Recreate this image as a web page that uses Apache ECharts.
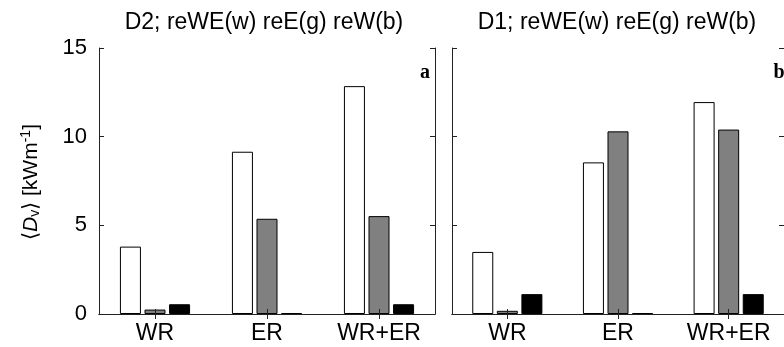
<!DOCTYPE html>
<html>
<head>
<meta charset="utf-8">
<script src="https://cdn.jsdelivr.net/npm/echarts@6/dist/echarts.min.js"></script>
<style>
  html, body { margin: 0; padding: 0; background: #fff; }
  #main { width: 784px; height: 347px; }
</style>
</head>
<body>
<div id="main"></div>
<script type="text/javascript">
	// categories and values
	var categories = ['WR', 'ER', 'WR+ER'];
	var panelTitles = ['D2; reWE(w) reE(g) reW(b)', 'D1; reWE(w) reE(g) reW(b)'];
	var panelLetters = ['a', 'b'];
	var yTicks = [0, 5, 10, 15];

	// D2 panel
	var d2White = [3.8, 9.15, 12.85];
	var d2Gray = [0.25, 5.37, 5.52];
	var d2Black = [0.55, 0.05, 0.55];
	// D1 panel
	var d1White = [3.5, 8.55, 11.95];
	var d1Gray = [0.18, 10.3, 10.4];
	var d1Black = [1.12, 0.05, 1.12];

	var font = 'Liberation Sans, Arial, sans-serif';
	var myChart = echarts.init(document.getElementById('main'));

	var grids = [
		{ left: 99, top: 48, width: 336, height: 266 },
		{ left: 452, top: 48, width: 336, height: 266 }
	];

	// bottom + top x axis for each grid (top one only carries the ticks)
	var xAxes = [];
	var yAxes = [];
	for (var g = 0; g < 2; g++) {
		['bottom', 'top'].forEach(function (pos) {
			xAxes.push({
				type: 'category',
				gridIndex: g,
				position: pos,
				data: categories,
				z: 5,
				axisLine: { show: true, lineStyle: { color: '#222', width: 1 } },
				axisTick: { show: true, inside: true, alignWithLabel: true, length: 5, lineStyle: { color: '#222' } },
				axisLabel: {
					show: pos === 'bottom',
					color: '#000',
					fontFamily: font,
					fontSize: 23,
					margin: 8
				},
				splitLine: { show: false }
			});
		});
		['left', 'right'].forEach(function (pos) {
			yAxes.push({
				type: 'value',
				gridIndex: g,
				position: pos,
				min: yTicks[0],
				max: yTicks[yTicks.length - 1],
				interval: 5,
				z: 5,
				axisLine: { show: true, lineStyle: { color: '#222', width: 1 } },
				axisTick: { show: true, inside: true, length: 5, lineStyle: { color: '#222' } },
				axisLabel: {
					show: g === 0 && pos === 'left',
					color: '#000',
					fontFamily: font,
					fontSize: 22,
					margin: 12
				},
				splitLine: { show: false }
			});
		});
	}

	function bars(data, color, xi, yi) {
		return {
			type: 'bar',
			xAxisIndex: xi,
			yAxisIndex: yi,
			data: data,
			barWidth: 21,
			barGap: '17%',
			itemStyle: { color: color, borderColor: '#000', borderWidth: 1 },
			silent: true
		};
	}

	var option = {
		animation: false,
		backgroundColor: '#fff',
		grid: grids,
		xAxis: xAxes,
		yAxis: yAxes,
		series: [
			bars(d2White, '#fff', 0, 0),
			bars(d2Gray, '#808080', 0, 0),
			bars(d2Black, '#000', 0, 0),
			bars(d1White, '#fff', 2, 2),
			bars(d1Gray, '#808080', 2, 2),
			bars(d1Black, '#000', 2, 2)
		],
		graphic: [
			{ type: 'text', x: 264, y: 23, style: { text: panelTitles[0], font: '23px ' + font, fill: '#000', align: 'center', verticalAlign: 'middle' } },
			{ type: 'text', x: 617, y: 23, style: { text: panelTitles[1], font: '23px ' + font, fill: '#000', align: 'center', verticalAlign: 'middle' } },
			{ type: 'text', x: 425, y: 73, z: 10, style: { text: panelLetters[0], font: 'bold 20px Liberation Serif, serif', fill: '#000', align: 'center', verticalAlign: 'middle' } },
			{ type: 'text', x: 779, y: 73, z: 10, style: { text: panelLetters[1], font: 'bold 20px Liberation Serif, serif', fill: '#000', align: 'center', verticalAlign: 'middle' } },
			{
				type: 'text',
				x: 31,
				y: 182,
				rotation: Math.PI / 2,
				style: {
					text: '{n|⟨}{i|D}{s|v}{n|⟩ [kWm}{p|-1}{n|]}',
					align: 'center',
					verticalAlign: 'middle',
					fill: '#000',
					rich: {
						n: { fontFamily: font, fontSize: 21, fill: '#000' },
						i: { fontFamily: font, fontSize: 21, fontStyle: 'italic', fill: '#000' },
						s: { fontFamily: font, fontSize: 14, fill: '#000', verticalAlign: 'bottom', padding: [9, 0, 0, 0] },
						p: { fontFamily: font, fontSize: 14, fill: '#000', verticalAlign: 'top', padding: [0, 0, 9, 0] }
					}
				}
			}
		]
	};
	myChart.setOption(option);
</script>
</body>
</html>
